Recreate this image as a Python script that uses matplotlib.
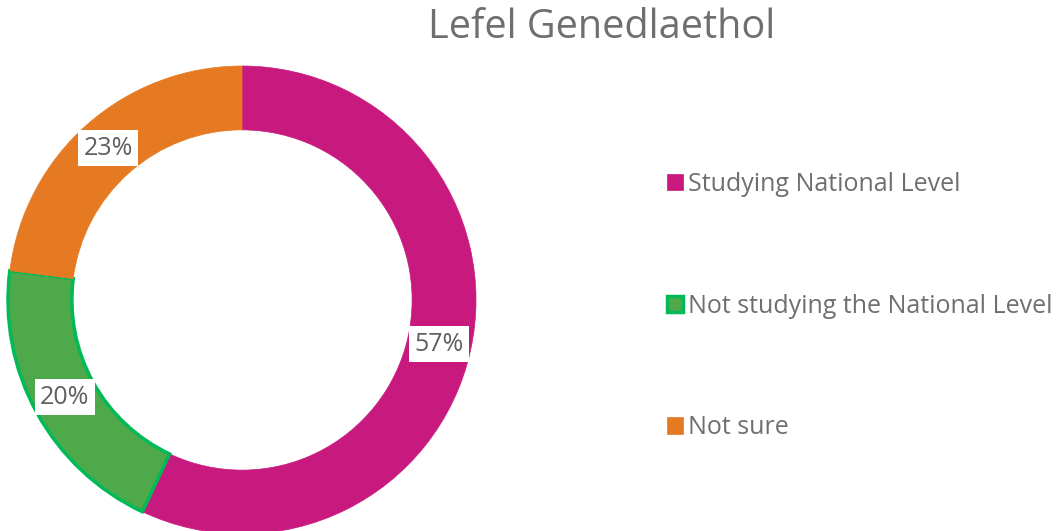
import matplotlib.pyplot as plt

categories = ['Studying National Level', 'Not studying the National Level', 'Not sure']
shares = [57, 20, 23]
fills = ['#C8197E', '#4EA94A', '#E67A22']
edges = ['#C8197E', '#00BA58', '#E67A22']
edge_widths = [0.5, 2.5, 0.5]

plt.rcParams['font.family'] = ['Open Sans', 'DejaVu Sans']

W, H = 1057, 531
fig = plt.figure(figsize=(W / 100, H / 100), dpi=100, facecolor='w')

# donut centre (242, 300) px, outer radius 234 px
cx, cy, r = 242, 300, 234
ax = fig.add_axes([(cx - r) / W, (H - cy - r) / H, 2 * r / W, 2 * r / H])
wedges, texts, autotexts = ax.pie(
    shares, colors=fills, startangle=90, counterclock=False, radius=1,
    autopct='%d%%', pctdistance=0.864,
    wedgeprops=dict(width=0.273),
    textprops=dict(fontsize=18, color='#5f5f5f'))
for w, ec, lw in zip(wedges, edges, edge_widths):
    w.set_edgecolor(ec)
    w.set_linewidth(lw)
for t in autotexts:
    t.set_bbox(dict(facecolor='white', edgecolor='none', pad=4))
ax.set_xlim(-1, 1)
ax.set_ylim(-1, 1)
ax.set_aspect('equal')
ax.axis('off')

fig.text(602 / W, 1 - 28 / H, 'Lefel Genedlaethol', ha='center', va='center',
         fontsize=28.5, color='#6f6f6f')

fig.legend(wedges, categories, loc='upper left',
           bbox_to_anchor=(667 / W, 1 - 172 / H), frameon=False,
           fontsize=18, labelcolor='#6f6f6f', handlelength=0.64,
           handleheight=0.64, handletextpad=0.2, labelspacing=3.87,
           borderpad=0, borderaxespad=0)

fig.savefig('out.png', dpi=100, facecolor='w')
